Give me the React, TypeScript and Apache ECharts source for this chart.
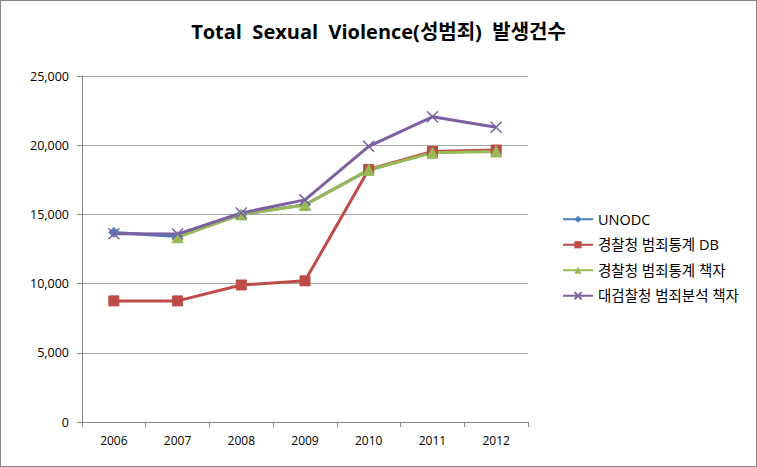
import React, { useEffect, useRef } from "react";
import * as echarts from "echarts";

const years = ["2006", "2007", "2008", "2009", "2010", "2011", "2012"];
const seriesNames = ["UNODC", "경찰청 범죄통계 DB", "경찰청 범죄통계 책자", "대검찰청 범죄분석 책자"];
const unodc = [13700, 13400, 15000, 15700, 18200, 19500, 19600];
const policeDB = [8750, 8750, 9900, 10200, 18250, 19550, 19650];
const policeBook = [null, 13350, 15000, 15680, 18220, 19450, 19550];
const prosecutionBook = [13600, 13580, 15100, 16050, 19920, 22050, 21300];
const colors = ["#4A7EBB", "#BE4B48", "#98B954", "#7D60A0"];

const xPath = "path://M0,0 L10,10 M10,0 L0,10";

export default function App() {
  const ref = useRef<HTMLDivElement>(null);
  useEffect(() => {
    const chart = echarts.init(ref.current!, null, { renderer: "svg" });
    const font = "'Open Sans', 'Noto Sans CJK KR', sans-serif";
    const mk = (name: string, data: any[], color: string, symbol: string, size: number) => ({
      name,
      type: "line",
      data,
      symbol,
      symbolSize: size,
      lineStyle: { color, width: 3 },
      itemStyle: { color, borderColor: color },
    });
    chart.setOption({
      animation: false,
      backgroundColor: "transparent",
      color: colors,
      title: {
        text: "Total  Sexual  Violence(성범죄)  발생건수",
        left: "center",
        top: 16,
        textStyle: { fontFamily: font, fontWeight: "bold", fontSize: 20, color: "#000" },
      },
      grid: { left: 82, right: 229, top: 76, bottom: 45 },
      legend: {
        orient: "vertical",
        left: 557,
        top: 207,
        itemGap: 11,
        itemWidth: 30,
        itemHeight: 9,
        textStyle: { fontFamily: font, fontSize: 14.5, color: "#000" },
        data: seriesNames,
      },
      xAxis: {
        type: "category",
        data: years,
        boundaryGap: true,
        axisLine: { lineStyle: { color: "#868686" } },
        axisTick: { show: true, length: 5, lineStyle: { color: "#868686" } },
        axisLabel: { fontFamily: font, fontSize: 12, color: "#000", margin: 12 },
      },
      yAxis: {
        type: "value",
        min: 0,
        max: 25000,
        interval: 5000,
        axisLine: { show: true, lineStyle: { color: "#868686" } },
        axisTick: { show: true, length: 5, lineStyle: { color: "#868686" } },
        axisLabel: {
          fontFamily: font,
          fontSize: 12.5,
          color: "#000",
          margin: 13,
          formatter: (v: number) => v.toLocaleString("en-US"),
        },
        splitLine: { lineStyle: { color: "#A6A6A6" } },
      },
      series: [
        mk(seriesNames[0], unodc, colors[0], "diamond", 10),
        mk(seriesNames[1], policeDB, colors[1], "rect", 10),
        mk(seriesNames[2], policeBook, colors[2], "triangle", 11),
        {
          name: seriesNames[3],
          type: "line",
          data: prosecutionBook,
          symbol: xPath,
          symbolSize: 11,
          lineStyle: { color: colors[3], width: 3 },
          itemStyle: { color: "none", borderColor: colors[3], borderWidth: 1.5 },
        },
      ],
    });
    return () => chart.dispose();
  }, []);
  return (
    <div
      style={{
        position: "fixed",
        left: 0,
        top: 0,
        width: 757,
        height: 467,
        background: "#fff",
      }}
    >
      <div ref={ref} style={{ position: "absolute", left: 0, top: 0, width: 757, height: 467 }} />
      <div
        style={{
          position: "absolute",
          left: 0,
          top: 0,
          width: 757,
          height: 467,
          boxSizing: "border-box",
          border: "1px solid #868686",
          pointerEvents: "none",
        }}
      />
    </div>
  );
}
